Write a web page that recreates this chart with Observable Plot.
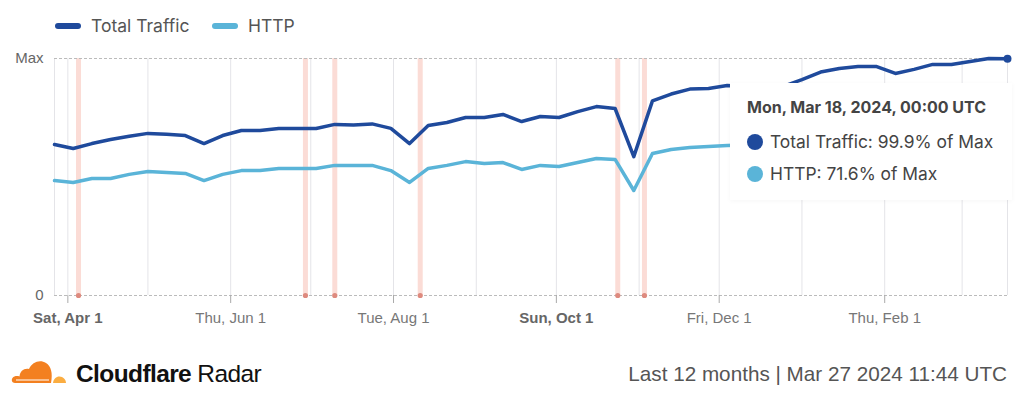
<!DOCTYPE html>
<html>
<head>
<meta charset="utf-8">
<script src="https://cdn.jsdelivr.net/npm/d3@7"></script>
<script src="https://cdn.jsdelivr.net/npm/@observablehq/plot@0.6"></script>
<style>
  html, body { margin: 0; padding: 0; background: #fff; width: 1024px; height: 401px; overflow: hidden; position: relative; }
  .abs { position: absolute; }
  .legend-item { position: absolute; top: 15px; font-family: Inter, "Noto Sans", sans-serif; font-size: 17.5px; color: #555; line-height: 22px; }
  .sw { position: absolute; top: 23px; height: 6px; width: 26px; border-radius: 3px; }
  #tip { position: absolute; left: 730px; top: 83px; width: 282px; height: 117px; background: #fff; box-shadow: 0 1px 5px rgba(0,0,0,0.04); font-family: Inter, "Noto Sans", sans-serif; color: #444; }
  #tip .title { position: absolute; left: 17px; top: 14px; font-weight: 700; font-size: 16px; color: #444; white-space: nowrap; }
  #tip .row { position: absolute; left: 17px; font-size: 17.4px; white-space: nowrap; color: #444; }
  #tip .dotc { display: inline-block; width: 16px; height: 16px; border-radius: 50%; vertical-align: -2px; margin-right: 7px; }
  #footer-left { position: absolute; left: 11px; top: 357px; }
  #brand { position: absolute; left: 76px; top: 360px; font-family: "Liberation Sans", Arial, sans-serif; font-size: 24.5px; color: #111; letter-spacing: -0.6px; white-space: nowrap; line-height: 28px; }
  #stamp { position: absolute; right: 17px; top: 362px; font-family: "Liberation Sans", Arial, sans-serif; font-size: 20.7px; color: #555; white-space: nowrap; line-height: 24px; }
</style>
</head>
<body>
<div class="sw" style="left:55px;background:#1f4a9c"></div>
<div class="legend-item" style="left:91px">Total Traffic</div>
<div class="sw" style="left:212px;background:#5ab4d8"></div>
<div class="legend-item" style="left:248px">HTTP</div>

<div id="chart" class="abs" style="left:0;top:45px"></div>

<div id="tip">
  <div class="title">Mon, Mar 18, 2024, 00:00 UTC</div>
  <div class="row" style="top:48px"><span class="dotc" style="background:#1f4a9c"></span>Total Traffic: 99.9% of Max</div>
  <div class="row" style="top:80px"><span class="dotc" style="background:#5ab4d8"></span>HTTP: 71.6% of Max</div>
</div>

<svg id="footer-left" width="56" height="28" viewBox="0 0 56 28">
  <path d="M40 26 L4 26 C1 26 0 23 1.5 21 C3 19 6 18.5 8.5 19.5 C9 14 13 11 18 12 C21 5 29 2 35 6 C40 9 42 16 40 26 Z" fill="#f38020"/>
  <path d="M42 26 C42.5 22 45 19.5 48.5 19.5 C52 19.5 55 22.5 55 26 Z" fill="#fbad41"/>
  <path d="M5 23 L38 23" stroke="#fff" stroke-width="1.1"/>
</svg>
<div id="brand"><b>Cloudflare</b> Radar</div>
<div id="stamp">Last 12 months | Mar 27 2024 11:44 UTC</div>

<script>
const weeks = ["2023-03-27","2023-04-03","2023-04-10","2023-04-17","2023-04-24","2023-05-01","2023-05-08","2023-05-15","2023-05-22","2023-05-29","2023-06-05","2023-06-12","2023-06-19","2023-06-26","2023-07-03","2023-07-10","2023-07-17","2023-07-24","2023-07-31","2023-08-07","2023-08-14","2023-08-21","2023-08-28","2023-09-04","2023-09-11","2023-09-18","2023-09-25","2023-10-02","2023-10-09","2023-10-16","2023-10-23","2023-10-30","2023-11-06","2023-11-13","2023-11-20","2023-11-27","2023-12-04","2023-12-11","2023-12-18","2023-12-25","2024-01-01","2024-01-08","2024-01-15","2024-01-22","2024-01-29","2024-02-05","2024-02-12","2024-02-19","2024-02-26","2024-03-04","2024-03-11","2024-03-18"];
const totalTraffic = [63.7,62.0,64.1,65.8,67.2,68.4,68.0,67.5,64.1,67.5,69.6,69.6,70.5,70.5,70.5,72.2,71.9,72.4,70.5,64.1,71.7,73.0,75.1,75.1,76.4,73.4,75.5,75.1,77.6,79.7,78.9,58.6,82.1,85.0,87.1,87.3,88.6,88.2,87.8,88.2,91.1,94.3,95.8,96.6,96.6,93.7,95.4,97.5,97.5,98.7,100,99.9];
const httpTraffic = [48.5,47.7,49.4,49.4,51.1,52.3,51.9,51.5,48.5,51.1,52.7,52.7,53.6,53.6,53.6,54.9,54.9,54.9,52.7,47.7,53.6,54.9,56.5,55.7,56.1,53.2,54.9,54.4,56.1,57.8,57.4,44.3,59.9,61.6,62.4,62.9,63.3,63.5,63.2,63.5,65.0,67.5,68.5,69.0,69.0,67.0,68.2,69.6,69.8,70.6,71.5,71.6];
const events = ["2023-04-05","2023-06-29","2023-07-10","2023-08-11","2023-10-24","2023-11-03"];
const monthGrid = ["2023-04-01","2023-05-01","2023-06-01","2023-07-01","2023-08-01","2023-09-01","2023-10-01","2023-11-01","2023-12-01","2024-01-01","2024-02-01","2024-03-01"];
const boldTicks = ["2023-04-01","2023-10-01"];
const normalTicks = ["2023-06-01","2023-08-01","2023-12-01","2024-02-01"];
const yTicks = [0, 100];
const yTickLabels = ["0", "Max"];

const P = s => new Date(s + "T00:00:00Z");
const totalData = weeks.map((w, i) => ({date: P(w), value: totalTraffic[i]}));
const httpData = weeks.map((w, i) => ({date: P(w), value: httpTraffic[i]}));
const eventDates = events.map(P);
const fmt = d3.utcFormat("%a, %b %-d");
const edges = [P(weeks[0]), P(weeks[weeks.length - 1])];

const chart = Plot.plot({
  width: 1024,
  height: 290,
  marginLeft: 54,
  marginRight: 17,
  marginTop: 13,
  marginBottom: 40,
  style: {fontFamily: "'Liberation Sans', Arial, sans-serif", fontSize: "15px", color: "#777", background: "transparent"},
  x: {type: "utc", domain: edges},
  y: {domain: [0, 100]},
  marks: [
    Plot.ruleX(monthGrid.map(P), {stroke: "#e4e4e8", strokeWidth: 1}),
    Plot.ruleX(edges, {stroke: "#e4e4e8", strokeWidth: 1}),
    Plot.ruleX(eventDates, {y1: 0, y2: 100, stroke: "#fbdcd6", strokeWidth: 5}),
    Plot.ruleY(yTicks, {stroke: "#bbbbbb", strokeDasharray: "3,2", strokeWidth: 1}),
    Plot.dot(eventDates, {x: d => d, y: 0, r: 2.6, fill: "#de8a7e", stroke: null}),
    Plot.axisY(yTicks, {tickSize: 0, tickPadding: 11, tickFormat: d => yTickLabels[yTicks.indexOf(d)], fontSize: 15, fill: "#666", label: null}),
    Plot.axisX([...boldTicks, ...normalTicks].map(P), {tickSize: 8, stroke: "#aaa", tickFormat: () => "", label: null}),
    Plot.text(boldTicks.map(P), {x: d => d, y: 0, dy: 23, text: d => fmt(d), fontWeight: "bold", fill: "#666", fontSize: 15}),
    Plot.text(normalTicks.map(P), {x: d => d, y: 0, dy: 23, text: d => fmt(d), fill: "#777", fontSize: 15}),
    Plot.line(httpData, {x: "date", y: "value", stroke: "#5ab4d8", strokeWidth: 3.5, strokeLinejoin: "round"}),
    Plot.line(totalData, {x: "date", y: "value", stroke: "#1f4a9c", strokeWidth: 3.5, strokeLinejoin: "round"}),
    Plot.dot(totalData.slice(-1), {x: "date", y: "value", r: 4, fill: "#1f4a9c"})
  ]
});
document.getElementById("chart").appendChild(chart);
</script>
</body>
</html>
